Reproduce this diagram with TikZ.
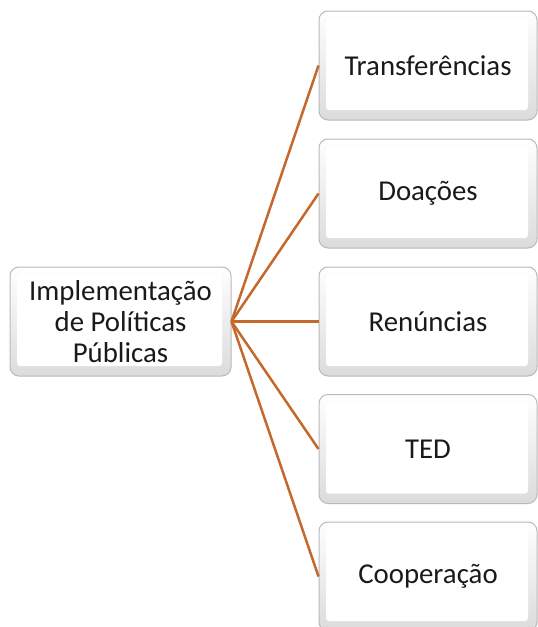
\documentclass[tikz,border=0pt]{standalone}
\usepackage{fontspec}
\setmainfont{Carlito}
\definecolor{linkc}{HTML}{C4682C}
\definecolor{txtc}{HTML}{1A1A1A}
\tikzset{
  bevelbox/.style={rounded corners=9pt, draw=gray!55, line width=1pt,
    top color=white, bottom color=gray!28, text=txtc,
    align=center, inner sep=0pt,
    font=\fontsize{28.8pt}{31pt}\selectfont,
    path picture={
      \fill[white, rounded corners=3pt]
        ([shift={(7pt,-7pt)}]path picture bounding box.north west)
        rectangle ([shift={(-9pt,10pt)}]path picture bounding box.south east);
    }},
  leftbox/.style={bevelbox, minimum width=221pt, minimum height=109pt},
  rightbox/.style={bevelbox, minimum width=218pt, minimum height=109pt},
  link/.style={draw=linkc, line width=2.5pt}
}
\begin{document}
\begin{tikzpicture}[x=1pt,y=-1pt]
\useasboundingbox (0,0) rectangle (538,627);
\node[leftbox] (root) at (120.5,321.5) {Implementação\\de Políticas\\Públicas};
\node[rightbox] (t) at (428,65.5) {Transferências};
\node[rightbox] (d) at (428,193.5) {Doações};
\node[rightbox] (r) at (428,321.5) {Renúncias};
\node[rightbox] (ted) at (428,449) {TED};
\node[rightbox] (c) at (428,576.5) {Cooperação};
\foreach \n in {t,d,r,ted,c} \draw[link] (root.east) -- (\n.west);
\end{tikzpicture}
\end{document}
